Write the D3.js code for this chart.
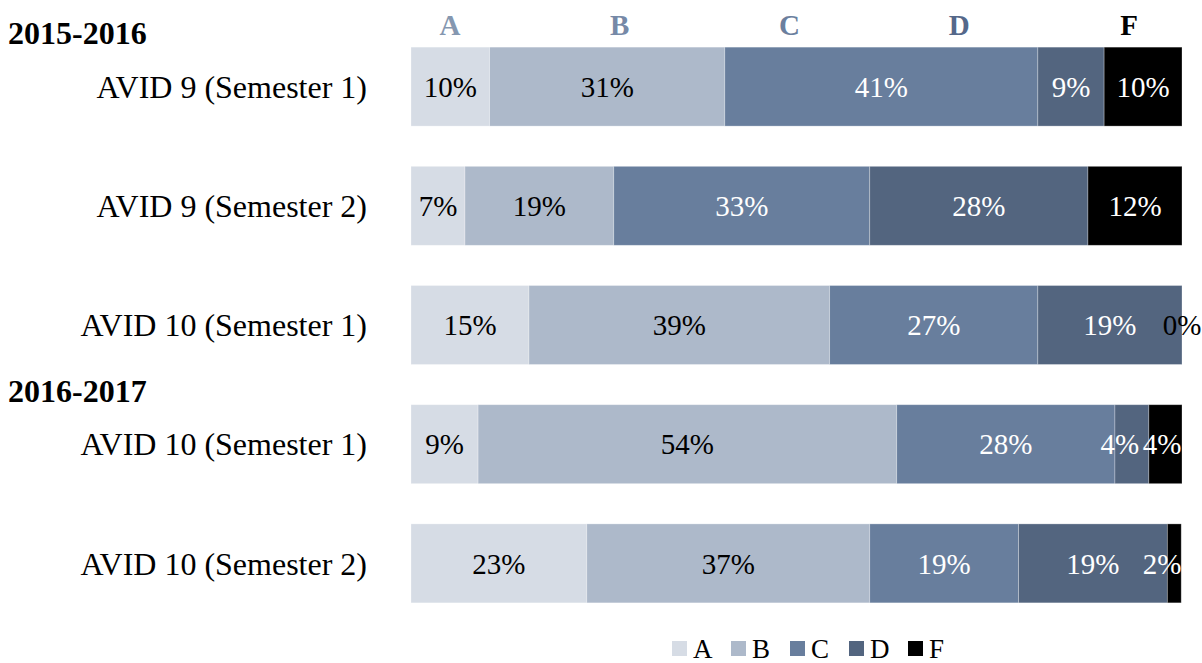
<!DOCTYPE html>
<html>
  <head>
    <style>
      body { margin: 0; background: #fff; }
      svg { font-family: "Liberation Serif", "Times New Roman", serif; }
    </style>
  </head>
  <body>
    <svg></svg>
    <script src="https://d3js.org/d3.v7.min.js"></script>
    <script>
      // rows top to bottom
      var rows = ["AVID 9 (Semester 1)", "AVID 9 (Semester 2)", "AVID 10 (Semester 1)",
                  "AVID 10 (Semester 1) ", "AVID 10 (Semester 2)"];
      var groups = ["2015-2016", "2016-2017"];
      var groupStart = [0, 3]; // row index each school year starts at

      var grades = ["A", "B", "C", "D", "F"];
      // percent of students per grade, one value per row
      var gradeA = [10.2, 7.0, 15.3, 8.7, 22.8];
      var gradeB = [30.5, 19.3, 39.0, 54.3, 36.7];
      var gradeC = [40.6, 33.2, 27.0, 28.3, 19.3];
      var gradeD = [8.6, 28.3, 18.7, 4.4, 19.3];
      var gradeF = [10.1, 12.2, 0, 4.3, 1.8];

      var fills = ["#d6dce5", "#adb9ca", "#687e9d", "#53657f", "#000000"];
      var headColors = ["#8597b0", "#7689a7", "#6b7f9e", "#55688a", "#000000"];
      var labelColors = ["#000", "#000", "#fff", "#fff", "#fff"];

      var svgWidth = 1202, svgHeight = 663;
      var svg = d3.select("svg")
        .attr("width", svgWidth)
        .attr("height", svgHeight);

      var table = rows.map((r, i) => {
        var vals = [gradeA[i], gradeB[i], gradeC[i], gradeD[i], gradeF[i]];
        var obj = { row: r };
        grades.forEach((g, j) => obj[g] = vals[j]);
        return obj;
      });
      var stacked = d3.stack().keys(grades)(table);

      var x = d3.scaleLinear().domain([0, 100]).range([411, 1182]);
      var y = d3.scaleBand().domain(rows).range([27, 623])
        .paddingInner(0.3375)
        .paddingOuter(0.169);

      // segments
      var layer = svg.selectAll("g.layer")
        .data(stacked)
        .enter().append("g")
        .attr("class", "layer")
        .attr("fill", (d, i) => fills[i]);

      layer.selectAll("rect")
        .data(d => d)
        .enter().append("rect")
        .attr("x", d => x(d[0]))
        .attr("y", d => y(d.data.row))
        .attr("width", d => x(d[1]) - x(d[0]))
        .attr("height", y.bandwidth())
        .attr("stroke", "#ffffff")
        .attr("stroke-opacity", 0.35)
        .attr("stroke-width", 0.8);

      // value labels
      layer.each(function(s, i) {
        d3.select(this).selectAll("text")
          .data(s)
          .enter().append("text")
          .attr("x", d => {
            var c = (x(d[0]) + x(d[1])) / 2;
            var v = d[1] - d[0];
            if (v > 0 && v < 6 && i < 4) c -= 12; // small segments: nudge left like the original
            return v > 0 ? Math.min(c, x(100) - 20) : c;
          })
          .attr("y", d => y(d.data.row) + y.bandwidth() / 2)
          .attr("dy", "0.35em")
          .attr("text-anchor", "middle")
          .attr("font-size", 29)
          .attr("fill", d => (d[1] - d[0]) > 0 ? labelColors[i] : "#000")
          .text(d => Math.round(d[1] - d[0]) + "%");
      });

      // row labels
      svg.selectAll("text.row")
        .data(rows)
        .enter().append("text")
        .attr("class", "row")
        .attr("x", 367)
        .attr("y", d => y(d) + y.bandwidth() / 2)
        .attr("dy", "0.35em")
        .attr("text-anchor", "end")
        .attr("font-size", 32)
        .text(d => d.trim());

      // school year labels
      svg.selectAll("text.group")
        .data(groups)
        .enter().append("text")
        .attr("class", "group")
        .attr("x", 8)
        .attr("y", (d, i) => y(rows[groupStart[i]]) - 3)
        .attr("font-size", 32)
        .attr("font-weight", "bold")
        .text(d => d);

      // grade headers above the first bar
      var head = d3.scalePoint().domain(grades).range([450, 1129]);
      svg.selectAll("text.head")
        .data(grades)
        .enter().append("text")
        .attr("class", "head")
        .attr("x", d => head(d))
        .attr("y", 35)
        .attr("text-anchor", "middle")
        .attr("font-size", 29)
        .attr("font-weight", "bold")
        .attr("fill", (d, i) => headColors[i])
        .text(d => d);

      // legend
      var leg = svg.append("g").attr("transform", "translate(672,641)");
      var item = leg.selectAll("g")
        .data(grades)
        .enter().append("g")
        .attr("transform", (d, i) => "translate(" + (i * 59) + ",0)");
      item.append("rect")
        .attr("width", 15)
        .attr("height", 15)
        .attr("fill", (d, i) => fills[i]);
      item.append("text")
        .attr("x", 21)
        .attr("y", 17)
        .attr("font-size", 27)
        .text(d => d);
    </script>
  </body>
</html>
